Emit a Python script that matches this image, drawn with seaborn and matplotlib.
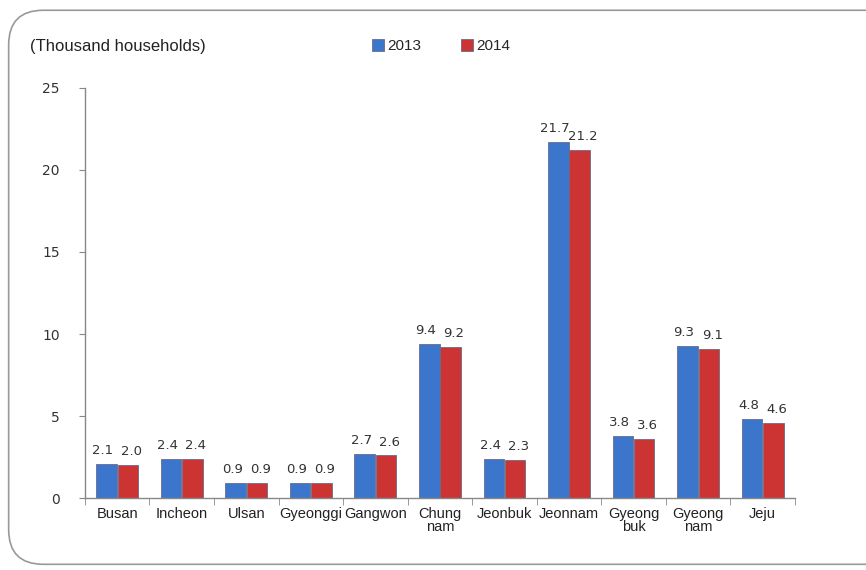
import matplotlib
matplotlib.use("Agg")
import matplotlib.pyplot as plt
import seaborn as sns
import pandas as pd
from matplotlib.patches import FancyBboxPatch

regions = ["Busan", "Incheon", "Ulsan", "Gyeonggi", "Gangwon", "Chung\nnam",
           "Jeonbuk", "Jeonnam", "Gyeong\nbuk", "Gyeong\nnam", "Jeju"]
v2013 = [2.1, 2.4, 0.9, 0.9, 2.7, 9.4, 2.4, 21.7, 3.8, 9.3, 4.8]
v2014 = [2.0, 2.4, 0.9, 0.9, 2.6, 9.2, 2.3, 21.2, 3.6, 9.1, 4.6]
years = ["2013", "2014"]
yticks = [0, 5, 10, 15, 20, 25]

df = pd.DataFrame({
    "region": regions * 2,
    "year": [years[0]] * len(regions) + [years[1]] * len(regions),
    "value": v2013 + v2014,
})

sns.set_style("white")
plt.rcParams['font.family'] = ['DejaVu Sans']
NARROW = ['Liberation Sans', 'DejaVu Sans']

fig = plt.figure(figsize=(8.66, 5.70), dpi=100)
ax = fig.add_axes([0.098, 0.126, 0.820, 0.720])

palette = {"2013": "#3b76cc", "2014": "#cc3333"}
sns.barplot(data=df, x="region", y="value", hue="year", palette=palette,
            width=0.66, gap=0.04, ax=ax, edgecolor="#6a6a8a", linewidth=0.6,
            saturation=1, legend=True)

for k, cont in enumerate(ax.containers):
    anns = ax.bar_label(cont, fmt="%.1f", padding=5, fontsize=9.5, color="#333333")
    dx = -2.5 if k == 0 else 2.5
    for a in anns:
        a.xyann = (dx, 5)

ax.set_ylim(0, 25)
ax.set_xlim(-0.5, len(regions) - 0.5)
ax.set_yticks(yticks)
ax.set_yticklabels([str(t) for t in yticks], fontsize=10, color="#333333")
ax.set_xlabel("")
ax.set_ylabel("")
ax.set_xticks(range(len(regions)))
ax.set_xticklabels(regions, fontsize=10.5, color="#222222", linespacing=0.95,
                   family=NARROW)
ax.tick_params(axis="x", length=0, pad=6)
ax.tick_params(axis="y", length=4, color="#888888", direction="out", left=True, pad=14)

# minor ticks between categories
ax.set_xticks([i + 0.5 for i in range(-1, len(regions))], minor=True)
ax.tick_params(axis="x", which="minor", length=5, color="#888888", bottom=True)

for s in ["top", "right"]:
    ax.spines[s].set_visible(False)
for s in ["left", "bottom"]:
    ax.spines[s].set_color("#888888")
    ax.spines[s].set_linewidth(1.0)

leg = ax.legend(loc="upper left", bbox_to_anchor=(0.385, 1.152), ncol=2, frameon=False,
                handlelength=0.8, handleheight=0.8, columnspacing=2.6,
                handletextpad=0.2, prop={'size': 11, 'family': NARROW})

fig.text(0.035, 0.918, "(Thousand households)", fontsize=12, color="#222222",
         va="center", family=NARROW)

border = FancyBboxPatch((0.010, 0.01), 1.2, 0.972, boxstyle="round,pad=0,rounding_size=0.04",
                        transform=fig.transFigure, fill=False, edgecolor="#999999",
                        linewidth=1.2, mutation_aspect=866/570)
fig.patches.append(border)

fig.savefig("out.png", dpi=100)
